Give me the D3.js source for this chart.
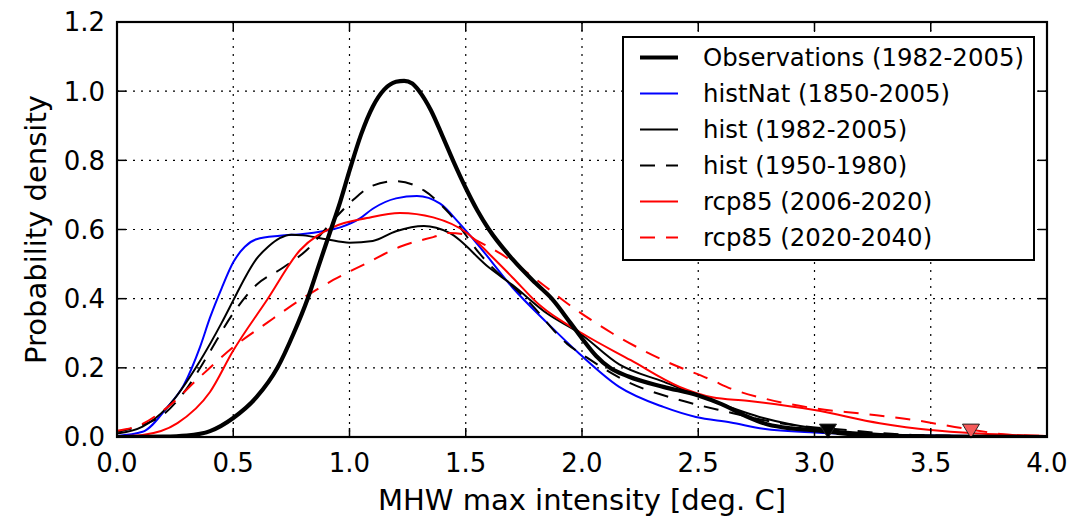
<!DOCTYPE html>
<html>
<head>
<meta charset="utf-8">
<script src="https://cdn.jsdelivr.net/npm/d3@7"></script>
<style>
  body { margin: 0; background: #fff; }
  svg text { font-family: "DejaVu Sans", sans-serif; fill: #000; }
</style>
</head>
<body>
<div class="drawing"></div>
<script>
// density curves, [intensity, density]
var obsPts = [[0,0],[0.2,0.001],[0.3,0.004],[0.4,0.017],[0.5,0.055],[0.6,0.115],[0.69,0.2],[0.76,0.3],
  [0.82,0.4],[0.87,0.5],[0.915,0.59],[0.96,0.68],[1.0,0.77],[1.05,0.875],[1.1,0.955],[1.15,1.005],[1.2,1.027],
  [1.235,1.03],[1.27,1.022],[1.3,1.0],[1.35,0.945],[1.4,0.87],[1.445,0.8],[1.5,0.72],[1.55,0.655],[1.6,0.6],[1.7,0.515],
  [1.8,0.445],[1.87,0.4],[1.95,0.33],[2.0,0.285],[2.06,0.235],[2.12,0.2],[2.2,0.175],[2.35,0.145],[2.5,0.12],
  [2.6,0.095],[2.7,0.062],[2.8,0.036],[2.9,0.025],[3.0,0.02],[3.1,0.012],[3.3,0.003],[3.5,0.001],[4.0,0]];
var histNatPts = [[0,0.003],[0.11,0.015],[0.215,0.085],[0.287,0.15],[0.357,0.26],[0.4,0.345],[0.45,0.43],
  [0.5,0.505],[0.55,0.55],[0.6,0.572],[0.7,0.582],[0.8,0.587],[0.885,0.595],[0.96,0.606],[1.045,0.632],
  [1.1,0.66],[1.2,0.69],[1.29,0.697],[1.39,0.675],[1.47,0.62],[1.56,0.55],[1.7,0.433],[1.85,0.33],
  [1.99,0.24],[2.16,0.145],[2.35,0.087],[2.49,0.058],[2.64,0.042],[2.78,0.024],[3.0,0.013],[3.5,0.004],
  [4.0,0.001]];
var histPts = [[0,0.01],[0.11,0.03],[0.215,0.085],[0.357,0.22],[0.45,0.33],[0.5,0.395],[0.55,0.46],
  [0.6,0.515],[0.65,0.55],[0.7,0.575],[0.75,0.585],[0.8,0.583],[0.9,0.572],[1.0,0.562],[1.1,0.567],
  [1.2,0.595],[1.32,0.61],[1.43,0.59],[1.6,0.49],[1.7,0.44],[1.85,0.357],[1.99,0.3],[2.16,0.21],
  [2.35,0.16],[2.56,0.105],[2.78,0.055],[3.0,0.025],[3.3,0.008],[3.6,0.003],[4.0,0.001]];
var hist50Pts = [[0,0.015],[0.11,0.035],[0.185,0.058],[0.3,0.14],[0.385,0.23],[0.5,0.358],[0.6,0.44],
  [0.715,0.49],[0.815,0.54],[0.93,0.627],[1.015,0.685],[1.1,0.727],[1.2,0.74],[1.32,0.713],[1.43,0.646],
  [1.56,0.53],[1.78,0.385],[1.935,0.27],[2.02,0.23],[2.21,0.155],[2.42,0.107],[2.61,0.075],[2.85,0.04],
  [3.14,0.02],[3.42,0.006],[4.0,0.001]];
var rcpPts = [[0,0.002],[0.11,0.006],[0.26,0.04],[0.4,0.13],[0.5,0.25],[0.645,0.396],[0.787,0.54],
  [0.93,0.607],[1.075,0.633],[1.217,0.648],[1.36,0.635],[1.505,0.59],[1.6,0.53],[1.7,0.462],[1.82,0.38],
  [2.0,0.3],[2.21,0.222],[2.42,0.145],[2.56,0.115],[2.71,0.105],[3.0,0.078],[3.28,0.04],[3.5,0.02],
  [3.71,0.01],[4.0,0.003]];
var rcp2040Pts = [[0,0.018],[0.1,0.035],[0.215,0.085],[0.357,0.174],[0.5,0.26],[0.645,0.33],[0.787,0.396],
  [0.93,0.454],[1.075,0.503],[1.217,0.55],[1.36,0.578],[1.43,0.59],[1.5,0.585],[1.55,0.567],[1.65,0.53],
  [1.79,0.462],[1.96,0.375],[2.13,0.3],[2.35,0.222],[2.56,0.164],[2.64,0.14],[2.78,0.112],[3.0,0.083],
  [3.21,0.067],[3.42,0.05],[3.64,0.025],[3.85,0.006],[4.0,0.003]];

var labels = ["Observations (1982-2005)", "histNat (1850-2005)", "hist (1982-2005)",
              "hist (1950-1980)", "rcp85 (2006-2020)", "rcp85 (2020-2040)"];
var colors = ["#000", "#0000ff", "#000", "#000", "#ff0000", "#ff0000"];
var widths = [4.2, 2, 2, 2, 2, 2];
var dashes = [null, null, null, "15,11", null, "15,11"];

// markers on the x axis (upper tail)
var markX = [3.058, 3.673];
var markY = [0.017, 0.017];
var markFill = ["#000", "#f55a5a"];

var xTicks = [0, 0.5, 1, 1.5, 2, 2.5, 3, 3.5, 4];
var yTicks = [0, 0.2, 0.4, 0.6, 0.8, 1.0, 1.2];

var width = 1079, height = 519;
var L = 117, R = 1047, T = 22, B = 437;

var svg = d3.select(".drawing").append("svg")
    .attr("width", width).attr("height", height);

var x = d3.scaleLinear().domain([0, 4]).range([L, R]);
var y = d3.scaleLinear().domain([0, 1.2]).range([B, T]);

svg.append("clipPath").attr("id", "clip")
  .append("rect").attr("x", L).attr("y", T).attr("width", R - L).attr("height", B - T);

// grid
svg.append("g").selectAll("line").data(xTicks.slice(1, -1)).enter().append("line")
    .attr("x1", d => x(d)).attr("x2", d => x(d)).attr("y1", T).attr("y2", B)
    .attr("stroke", "#000").attr("stroke-width", 1.2).attr("stroke-dasharray", "2,6");
svg.append("g").selectAll("line").data(yTicks.slice(1, -1)).enter().append("line")
    .attr("y1", d => y(d)).attr("y2", d => y(d)).attr("x1", L).attr("x2", R)
    .attr("stroke", "#000").attr("stroke-width", 1.2).attr("stroke-dasharray", "2,6");

// curves
var series = [obsPts, histNatPts, histPts, hist50Pts, rcpPts, rcp2040Pts];
var line = d3.line().x(d => x(d[0])).y(d => y(d[1])).curve(d3.curveMonotoneX);
var order = [1, 2, 3, 4, 5, 0];
var gLines = svg.append("g").attr("clip-path", "url(#clip)");
order.forEach(function(i) {
    gLines.append("path")
	.attr("d", line(series[i]))
	.attr("fill", "none")
	.attr("stroke", colors[i])
	.attr("stroke-width", widths[i])
	.attr("stroke-dasharray", dashes[i])
	.attr("stroke-linejoin", "round");
});

// downward triangles
svg.append("g").selectAll("path").data(markX).enter().append("path")
    .attr("d", function(d, i) {
	var cx = x(d), cy = y(markY[i]);
	return "M" + (cx - 8.5) + "," + (cy - 7) + "L" + (cx + 8.5) + "," + (cy - 7) + "L" + cx + "," + (cy + 7) + "Z";
    })
    .attr("fill", (d, i) => markFill[i])
    .attr("stroke", "#222").attr("stroke-width", 1);

// frame and inward ticks
svg.append("rect").attr("x", L).attr("y", T).attr("width", R - L).attr("height", B - T)
    .attr("fill", "none").attr("stroke", "#000").attr("stroke-width", 2.2);

var tk = svg.append("g").attr("stroke", "#000").attr("stroke-width", 1.5);
xTicks.forEach(function(t) {
    tk.append("line").attr("x1", x(t)).attr("x2", x(t)).attr("y1", B).attr("y2", B - 9);
    tk.append("line").attr("x1", x(t)).attr("x2", x(t)).attr("y1", T).attr("y2", T + 9);
});
yTicks.forEach(function(t) {
    tk.append("line").attr("y1", y(t)).attr("y2", y(t)).attr("x1", L).attr("x2", L + 9);
    tk.append("line").attr("y1", y(t)).attr("y2", y(t)).attr("x1", R).attr("x2", R - 9);
});

// tick labels
svg.append("g").selectAll("text").data(xTicks).enter().append("text")
    .attr("x", d => x(d)).attr("y", 472)
    .attr("text-anchor", "middle").attr("font-size", 26)
    .text(d => d3.format(".1f")(d));
svg.append("g").selectAll("text").data(yTicks).enter().append("text")
    .attr("x", 105).attr("y", d => y(d)).attr("dy", "0.36em")
    .attr("text-anchor", "end").attr("font-size", 26)
    .text(d => d3.format(".1f")(d));

// axis labels
svg.append("text").attr("x", (L + R) / 2).attr("y", 510)
    .attr("text-anchor", "middle").attr("font-size", 29)
    .text("MHW max intensity [deg. C]");
svg.append("text").attr("transform", "translate(46," + ((T + B) / 2) + ") rotate(-90)")
    .attr("text-anchor", "middle").attr("font-size", 29)
    .text("Probability density");

// legend
var lg = svg.append("g");
lg.append("rect").attr("x", 623).attr("y", 37).attr("width", 411).attr("height", 223)
    .attr("fill", "#fff").attr("stroke", "#000").attr("stroke-width", 2);
labels.forEach(function(lab, i) {
    var ly = 57.5 + i * 36;
    lg.append("line").attr("x1", 640).attr("x2", 678).attr("y1", ly).attr("y2", ly)
	.attr("stroke", colors[i]).attr("stroke-width", widths[i])
	.attr("stroke-dasharray", dashes[i]);
    lg.append("text").attr("x", 703).attr("y", ly).attr("dy", "0.36em")
	.attr("font-size", 24.4).text(lab);
});
</script>
</body>
</html>
